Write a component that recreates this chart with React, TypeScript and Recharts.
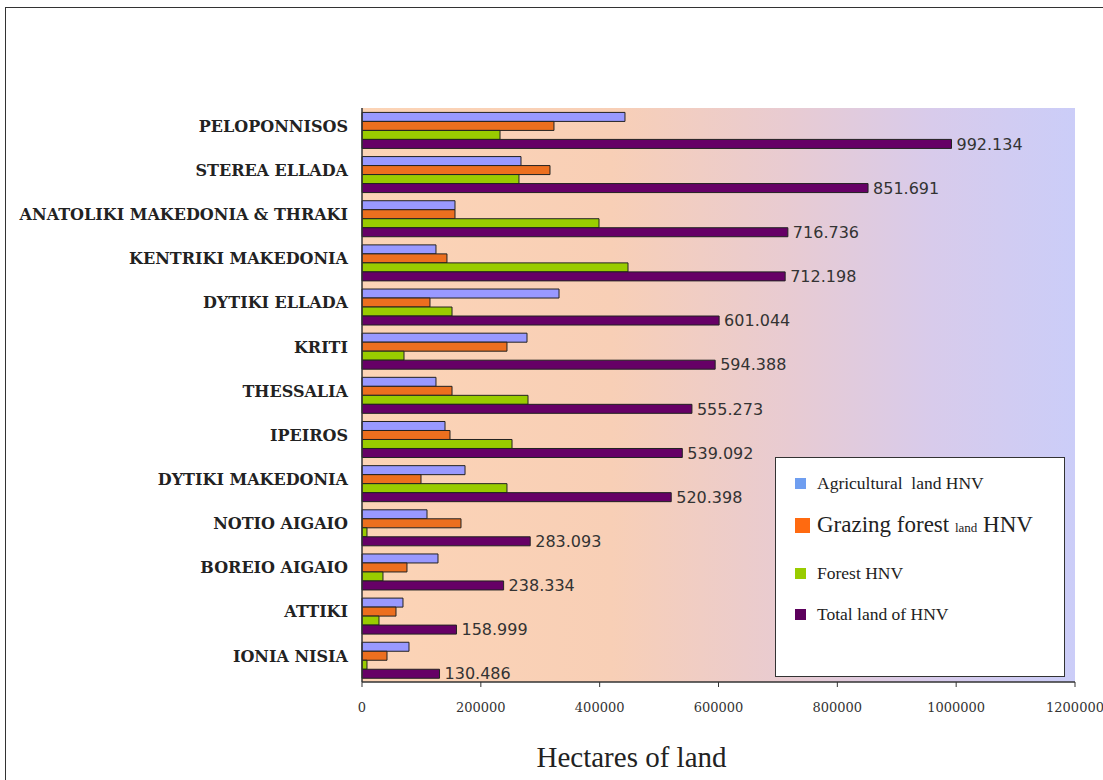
import { BarChart, Bar, XAxis, YAxis, CartesianGrid, LabelList } from 'recharts';

const regions = [
  'PELOPONNISOS',
  'STEREA ELLADA',
  'ANATOLIKI MAKEDONIA & THRAKI',
  'KENTRIKI MAKEDONIA',
  'DYTIKI ELLADA',
  'KRITI',
  'THESSALIA',
  'IPEIROS',
  'DYTIKI MAKEDONIA',
  'NOTIO AIGAIO',
  'BOREIO AIGAIO',
  'ATTIKI',
  'IONIA NISIA',
];

const agricultural = [442600, 267600, 156500, 124500, 331600, 277700, 124500, 139700, 173400, 109400, 127900, 69000, 79100];
const grazing = [323100, 316400, 156500, 143000, 114400, 244000, 151500, 148100, 99300, 166600, 75700, 57200, 42100];
const forest = [232300, 264200, 398900, 447700, 151500, 70700, 279400, 252500, 244000, 8400, 35300, 28600, 8400];
const total = [992134, 851691, 716736, 712198, 601044, 594388, 555273, 539092, 520398, 283093, 238334, 158999, 130486];

const xTicks = [0, 200000, 400000, 600000, 800000, 1000000, 1200000];
// category boundaries for the small tick marks on the left axis
const boundaryTicks = [0, 1, 2, 3, 4, 5, 6, 7, 8, 9, 10, 11, 12, 13];

const data = regions.map((name, i) => ({
  name,
  agricultural: agricultural[i],
  grazing: grazing[i],
  forest: forest[i],
  total: total[i],
}));

const serif = '"DejaVu Serif", serif';
const legendFont = '"Liberation Serif", serif';

function LegendBox() {
  const row = (color: string, size: number, label: React.ReactNode, top: number) => (
    <div style={{ position: 'absolute', left: 19, top, height: 24, display: 'flex', alignItems: 'center', whiteSpace: 'nowrap' }}>
      <div style={{ width: size, height: size, background: color, marginRight: 22 - size }} />
      {label}
    </div>
  );
  return (
    <div
      style={{
        position: 'absolute',
        left: 775,
        top: 457,
        width: 290,
        height: 220,
        background: '#fff',
        border: '1.5px solid #333',
        boxSizing: 'border-box',
        fontFamily: legendFont,
        color: '#222',
      }}
    >
      {row('#6f9ef0', 11, <span style={{ fontSize: 17.5 }}>Agricultural&nbsp; land HNV</span>, 13)}
      {row(
        '#ff6a10',
        15,
        <span style={{ fontSize: 23 }}>
          Grazing forest <span style={{ fontSize: 13 }}>land</span> HNV
        </span>,
        55
      )}
      {row('#99cc00', 11, <span style={{ fontSize: 17.5 }}>Forest HNV</span>, 103)}
      {row('#5c005c', 11, <span style={{ fontSize: 17.5 }}>Total land of HNV</span>, 144)}
    </div>
  );
}

export default function App() {
  return (
    <div style={{ position: 'absolute', left: 0, top: 0, width: 1103, height: 780, background: '#fff', overflow: 'hidden' }}>
      <div
        style={{
          position: 'absolute',
          left: 5,
          top: 7,
          width: 1110,
          height: 790,
          border: '1.5px solid #333',
        }}
      />
      <div style={{ position: 'absolute', left: 0, top: 0 }}>
        <BarChart
          layout="vertical"
          width={1103}
          height={780}
          data={data}
          margin={{ top: 108, right: 28, bottom: 48, left: 0 }}
          barGap={0}
          barCategoryGap="10%"
        >
          <defs>
            <linearGradient id="plotBg" x1="0" y1="0" x2="1" y2="0">
              <stop offset="0%" stopColor="#fcd4b6" />
              <stop offset="35%" stopColor="#f8cfb6" />
              <stop offset="60%" stopColor="#e8cbd2" />
              <stop offset="80%" stopColor="#d8cbeb" />
              <stop offset="100%" stopColor="#cbcdf8" />
            </linearGradient>
          </defs>
          <CartesianGrid horizontal={false} vertical={false} fill="url(#plotBg)" fillOpacity={1} />
          <XAxis
            type="number"
            domain={[0, 1200000]}
            ticks={xTicks}
            interval={0}
            height={50}
            axisLine={{ stroke: '#333', strokeWidth: 1.5 }}
            tickLine={{ stroke: '#333' }}
            tickSize={5}
            tickMargin={16}
            tick={{ fontFamily: serif, fontSize: 13, fill: '#333' }}
            label={{
              value: 'Hectares of land',
              position: 'insideBottom',
              dx: -87,
              offset: -35,
              style: { fontFamily: legendFont, fontSize: 29, fill: '#222' },
            }}
          />
          <YAxis
            yAxisId="bounds"
            type="number"
            orientation="left"
            domain={[0, 13]}
            ticks={boundaryTicks}
            interval={0}
            width={0}
            axisLine={false}
            tick={false}
            tickLine={{ stroke: '#333' }}
            tickSize={5}
          />
          <YAxis
            type="category"
            dataKey="name"
            width={362}
            interval={0}
            axisLine={{ stroke: '#333', strokeWidth: 1.5 }}
            tickLine={false}
            tickMargin={8}
            tick={{ fontFamily: serif, fontSize: 16, fontWeight: 600, fill: '#222', dy: -4 }}
          />
          <Bar dataKey="agricultural" name="Agricultural land HNV" fill="#9999ff" stroke="#222" strokeWidth={1} isAnimationActive={false} />
          <Bar dataKey="grazing" name="Grazing forest land HNV" fill="#ec6f1f" stroke="#222" strokeWidth={1} isAnimationActive={false} />
          <Bar dataKey="forest" name="Forest HNV" fill="#99cc00" stroke="#222" strokeWidth={1} isAnimationActive={false} />
          <Bar dataKey="total" name="Total land of HNV" fill="#660066" stroke="#222" strokeWidth={1} isAnimationActive={false}>
            <LabelList
              dataKey="total"
              position="right"
              offset={5}
              formatter={(v: number) => (v / 1000).toFixed(3)}
              style={{ fontFamily: '"DejaVu Sans", sans-serif', fontSize: 16, fill: '#333' }}
            />
          </Bar>
        </BarChart>
      </div>
      <LegendBox />
    </div>
  );
}
